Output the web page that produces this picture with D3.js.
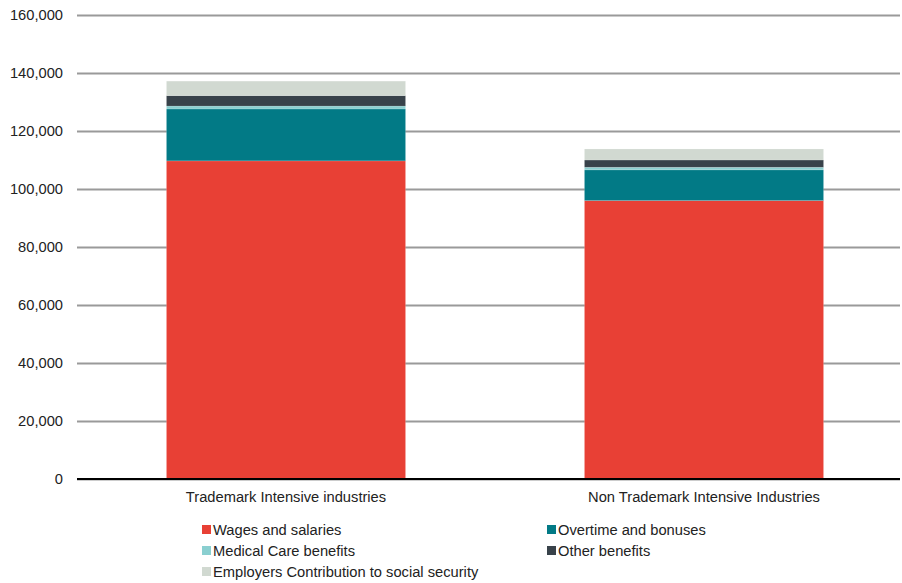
<!DOCTYPE html>
<html>
<head>
<meta charset="utf-8">
<script src="https://cdn.jsdelivr.net/npm/d3@7"></script>
<style>
  html, body { margin: 0; padding: 0; background: #fff; }
  svg { display: block; font-family: "Liberation Sans", Arial, sans-serif; }
</style>
</head>
<body>
<svg id="chart" width="902" height="583"></svg>
<script>
// Industry groups along the x axis
const categories = ["Trademark Intensive industries", "Non Trademark Intensive Industries"];

// Compensation components, stacked bottom to top
const seriesNames = [
  "Wages and salaries",
  "Overtime and bonuses",
  "Medical Care benefits",
  "Other benefits",
  "Employers Contribution to social security"
];
const wages      = [109700, 96000];
const overtime   = [17900, 10600];
const medical    = [1000, 900];
const other      = [3600, 2500];
const employers  = [5000, 3800];

const yTicks = [0, 20000, 40000, 60000, 80000, 100000, 120000, 140000, 160000];
const colors = ["#e84035", "#027a86", "#8acfd0", "#38424a", "#d1d9d1"];

const rows = categories.map((c, i) => ({
  category: c,
  "Wages and salaries": wages[i],
  "Overtime and bonuses": overtime[i],
  "Medical Care benefits": medical[i],
  "Other benefits": other[i],
  "Employers Contribution to social security": employers[i]
}));

const svg = d3.select("#chart");
const plotLeft = 77, plotRight = 900, plotTop = 15, plotBottom = 479;
const fontSize = 14.7;

const x = d3.scaleBand()
  .domain(categories)
  .range([plotLeft, 913])
  .paddingInner(0.428)
  .paddingOuter(0.214);

const y = d3.scaleLinear()
  .domain([0, 160000])
  .range([plotBottom, plotTop]);

const color = d3.scaleOrdinal().domain(seriesNames).range(colors);

// Horizontal gridlines with tick labels
const yAxis = d3.axisLeft(y)
  .tickValues(yTicks)
  .tickFormat(d3.format(","))
  .tickSize(-(plotRight - plotLeft))
  .tickPadding(14);

const gy = svg.append("g")
  .attr("transform", `translate(${plotLeft},0)`)
  .call(yAxis);
gy.select(".domain").remove();
gy.selectAll(".tick line")
  .attr("stroke", "#9a9a9a")
  .attr("stroke-width", 2);
gy.selectAll(".tick text")
  .attr("fill", "#222")
  .attr("font-size", fontSize);

// Stacked bars
const stack = d3.stack().keys(seriesNames);
const layers = stack(rows);

svg.append("g")
  .selectAll("g")
  .data(layers)
  .join("g")
  .attr("fill", d => color(d.key))
  .selectAll("rect")
  .data(d => d)
  .join("rect")
  .attr("x", d => x(d.data.category))
  .attr("width", x.bandwidth())
  .attr("y", d => y(d[1]))
  .attr("height", d => y(d[0]) - y(d[1]))
  .attr("stroke", "rgba(255,255,255,0.25)")
  .attr("stroke-width", 0.6);

// Baseline
svg.append("line")
  .attr("x1", plotLeft).attr("x2", plotRight)
  .attr("y1", y(0)).attr("y2", y(0))
  .attr("stroke", "#000")
  .attr("stroke-width", 2);

// Category labels
const xAxis = d3.axisBottom(x).tickSize(0).tickPadding(13);
const gx = svg.append("g")
  .attr("transform", `translate(0,${plotBottom})`)
  .call(xAxis);
gx.select(".domain").remove();
gx.selectAll(".tick text")
  .attr("fill", "#222")
  .attr("font-size", fontSize);

// Legend: two columns, three rows
const legendPos = [
  { x: 202, y: 530 },
  { x: 547, y: 530 },
  { x: 202, y: 551 },
  { x: 547, y: 551 },
  { x: 202, y: 572 }
];
const legend = svg.append("g")
  .selectAll("g")
  .data(seriesNames)
  .join("g")
  .attr("transform", (d, i) => `translate(${legendPos[i].x},${legendPos[i].y})`);
legend.append("rect")
  .attr("x", 0).attr("y", -5)
  .attr("width", 9).attr("height", 9)
  .attr("fill", d => color(d));
legend.append("text")
  .attr("x", 11)
  .attr("y", 0)
  .attr("dy", "0.35em")
  .attr("font-size", fontSize)
  .attr("fill", "#222")
  .text(d => d);
</script>
</body>
</html>
